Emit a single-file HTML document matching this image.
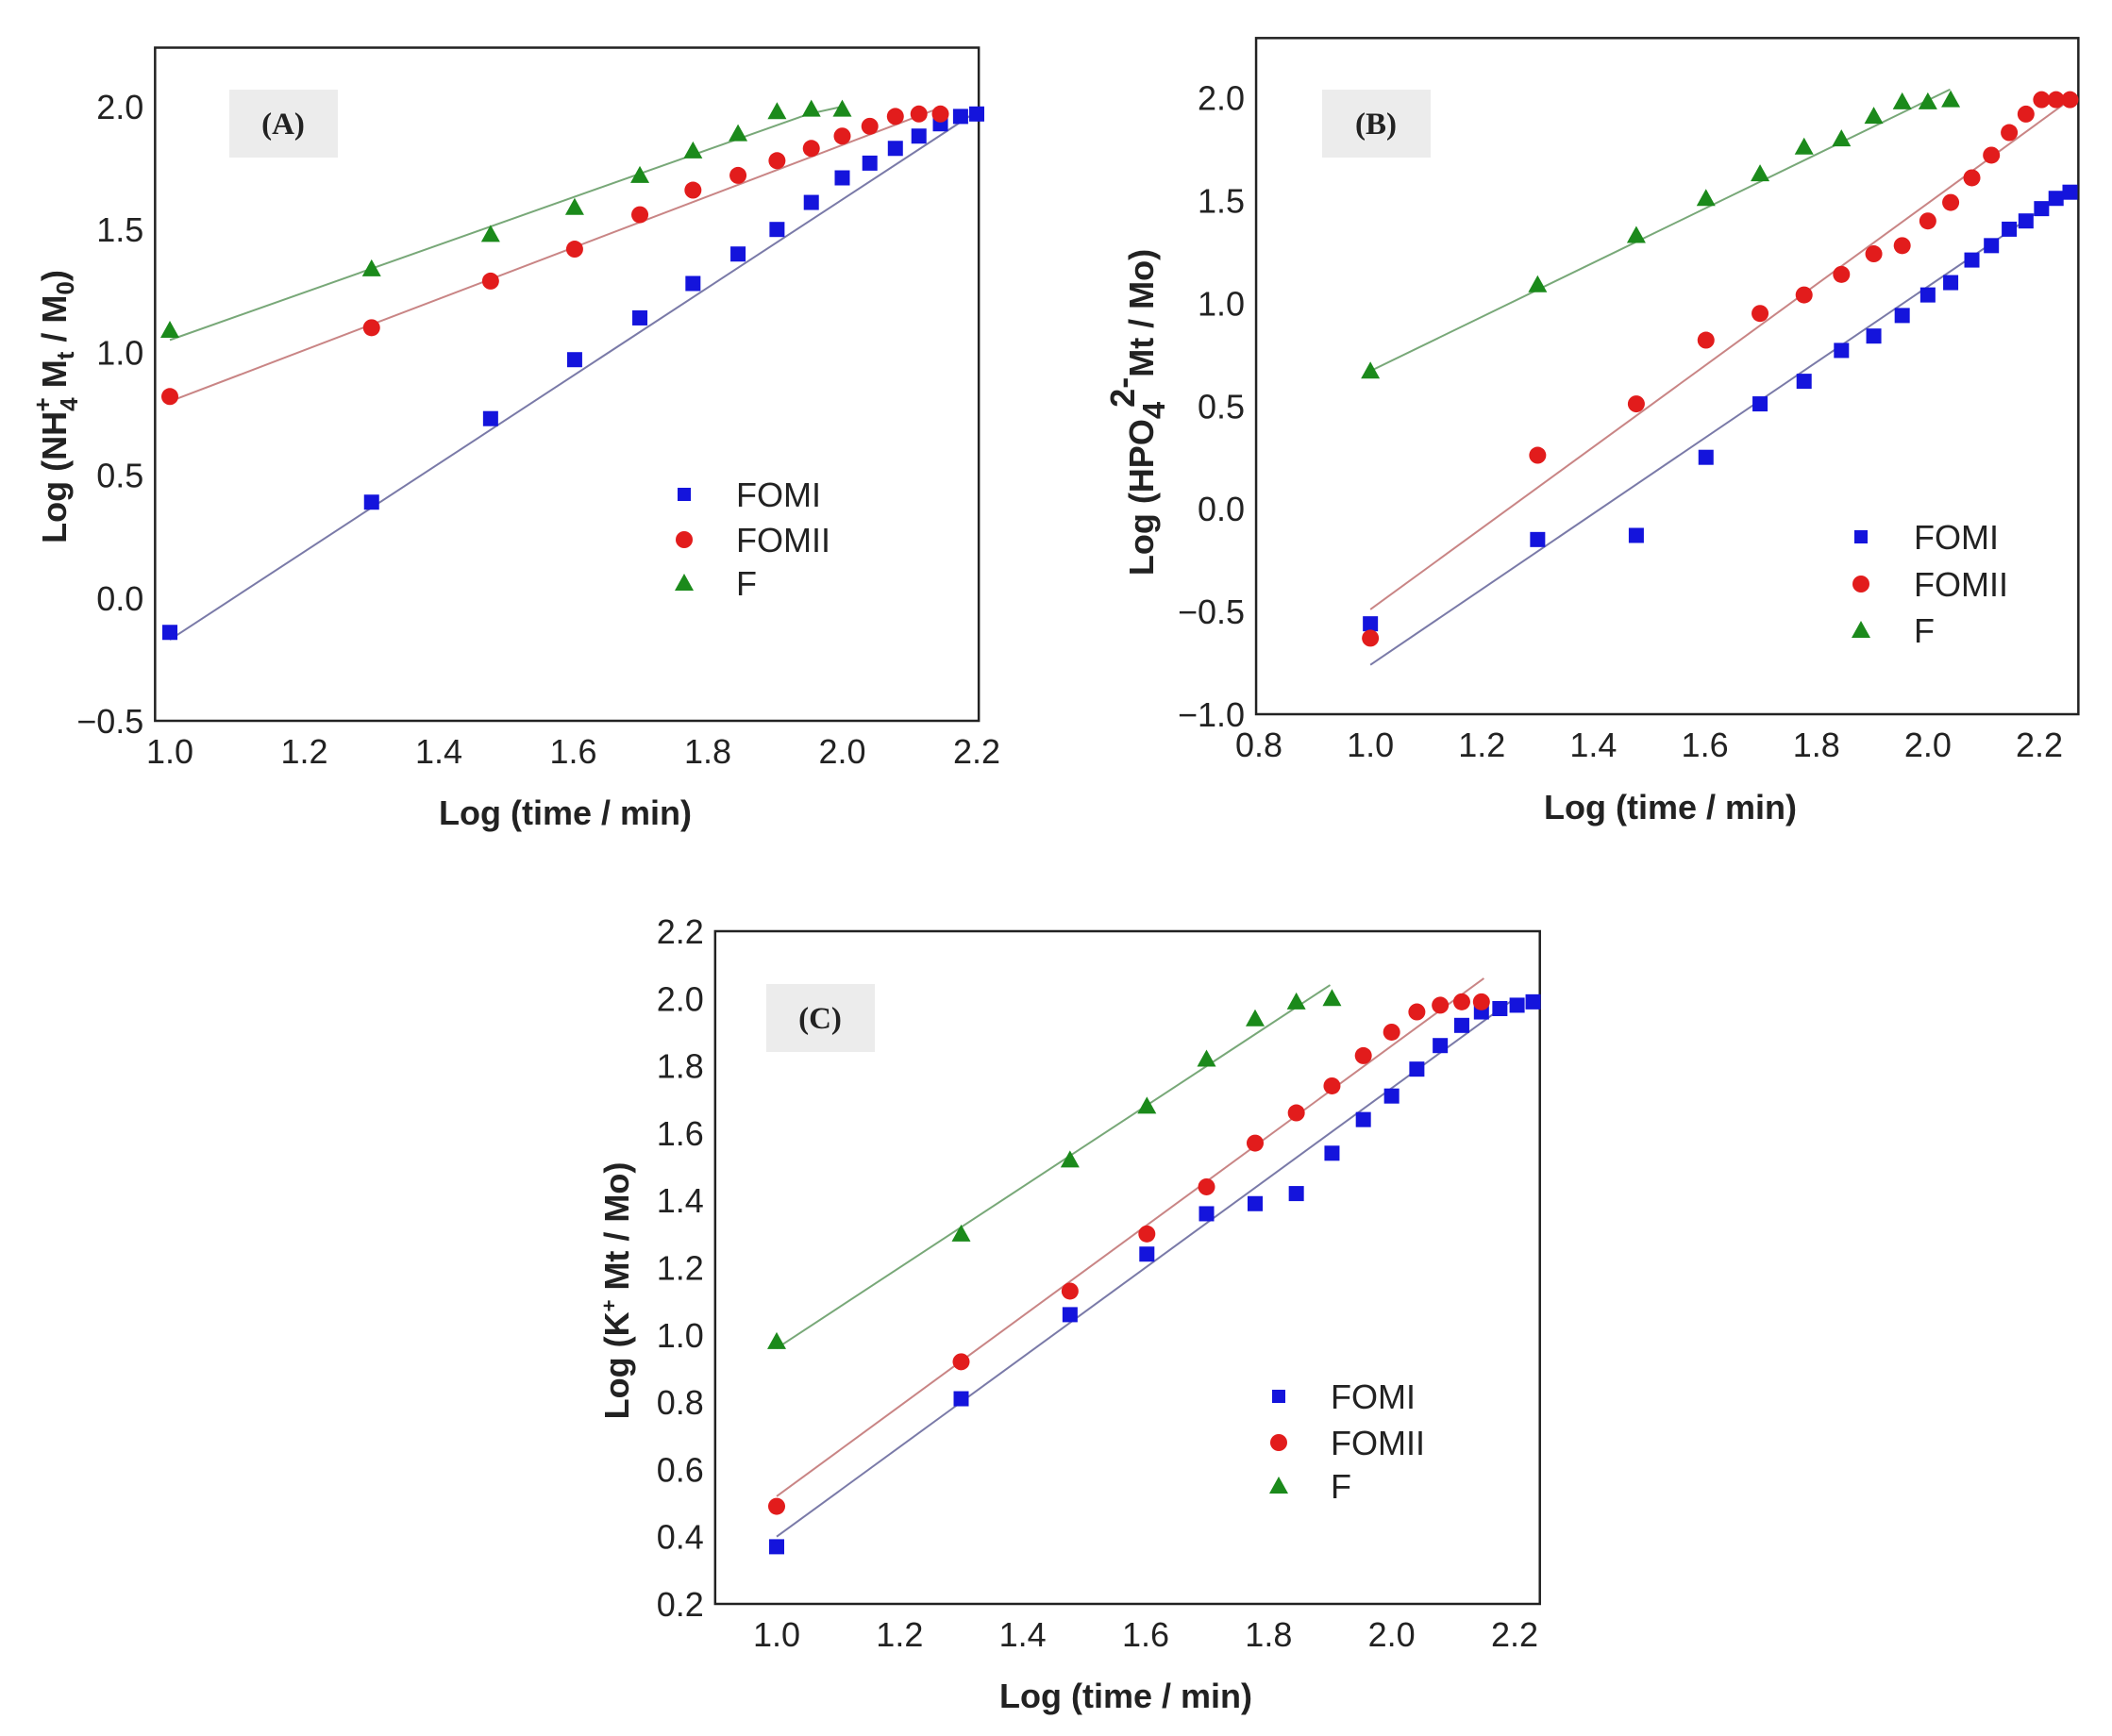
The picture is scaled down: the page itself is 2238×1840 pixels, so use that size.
<!DOCTYPE html>
<html><head><meta charset="utf-8"><style>
html,body{margin:0;padding:0;background:#fff;}
svg{display:block;font-family:"Liberation Sans",Arial,sans-serif;}
</style></head><body>
<svg id="fig" width="2238" height="1840" viewBox="0 0 2238 1840" xmlns="http://www.w3.org/2000/svg"></svg>
<script>
// ---------- Data: Panel A (NH4+) ----------
const aFomiX=[1.0,1.3,1.477,1.602,1.699,1.778,1.845,1.903,1.954,2.0,2.041,2.079,2.114,2.146,2.176,2.2];
const aFomiY=[-0.14,0.39,0.73,0.97,1.14,1.28,1.40,1.50,1.61,1.71,1.77,1.83,1.88,1.93,1.96,1.97];
const aFomiiX=[1.0,1.3,1.477,1.602,1.699,1.778,1.845,1.903,1.954,2.0,2.041,2.079,2.114,2.146];
const aFomiiY=[0.82,1.10,1.29,1.42,1.56,1.66,1.72,1.78,1.83,1.88,1.92,1.96,1.97,1.97];
const aFX=[1.0,1.3,1.477,1.602,1.699,1.778,1.845,1.903,1.954,2.0];
const aFY=[1.09,1.34,1.48,1.59,1.72,1.82,1.89,1.98,1.99,1.99];
const aFitFomi=[[1.0,-0.17],[2.2,1.98]];
const aFitFomii=[[1.0,0.80],[2.15,2.0]];
const aFitF=[[1.0,1.05],[1.95,1.97],[2.0,2.0]];
const aXTicks=[1.0,1.2,1.4,1.6,1.8,2.0,2.2];
const aYTicks=[-0.5,0.0,0.5,1.0,1.5,2.0];
// ---------- Data: Panel B (HPO4 2-) ----------
const bFomiX=[1.0,1.3,1.477,1.602,1.699,1.778,1.845,1.903,1.954,2.0,2.041,2.079,2.114,2.146,2.176,2.204,2.23,2.255];
const bFomiY=[-0.56,-0.15,-0.13,0.25,0.51,0.62,0.77,0.84,0.94,1.04,1.10,1.21,1.28,1.36,1.40,1.46,1.51,1.54];
const bFomiiX=[1.0,1.3,1.477,1.602,1.699,1.778,1.845,1.903,1.954,2.0,2.041,2.079,2.114,2.146,2.176,2.204,2.23,2.255];
const bFomiiY=[-0.63,0.26,0.51,0.82,0.95,1.04,1.14,1.24,1.28,1.40,1.49,1.61,1.72,1.83,1.92,1.99,1.99,1.99];
const bFX=[1.0,1.3,1.477,1.602,1.699,1.778,1.845,1.903,1.954,2.0,2.041];
const bFY=[0.67,1.09,1.33,1.51,1.63,1.76,1.80,1.91,1.98,1.98,1.99];
const bFitFomi=[[1.0,-0.76],[2.255,1.55]];
const bFitFomii=[[1.0,-0.49],[2.255,1.99]];
const bFitF=[[1.0,0.67],[2.04,2.04]];
const bXTicks=[0.8,1.0,1.2,1.4,1.6,1.8,2.0,2.2];
const bYTicks=[-1.0,-0.5,0.0,0.5,1.0,1.5,2.0];
// ---------- Data: Panel C (K+) ----------
const cFomiX=[1.0,1.3,1.477,1.602,1.699,1.778,1.845,1.903,1.954,2.0,2.041,2.079,2.114,2.146,2.176,2.204,2.23];
const cFomiY=[0.37,0.81,1.06,1.24,1.36,1.39,1.42,1.54,1.64,1.71,1.79,1.86,1.92,1.96,1.97,1.98,1.99];
const cFomiiX=[1.0,1.3,1.477,1.602,1.699,1.778,1.845,1.903,1.954,2.0,2.041,2.079,2.114,2.146];
const cFomiiY=[0.49,0.92,1.13,1.30,1.44,1.57,1.66,1.74,1.83,1.90,1.96,1.98,1.99,1.99];
const cFX=[1.0,1.3,1.477,1.602,1.699,1.778,1.845,1.903];
const cFY=[0.98,1.30,1.52,1.68,1.82,1.94,1.99,2.0];
const cFitFomi=[[1.0,0.40],[2.2,2.0]];
const cFitFomii=[[1.0,0.52],[2.15,2.06]];
const cFitF=[[1.0,0.96],[1.9,2.04]];
const cXTicks=[1.0,1.2,1.4,1.6,1.8,2.0,2.2];
const cYTicks=[0.2,0.4,0.6,0.8,1.0,1.2,1.4,1.6,1.8,2.0,2.2];
const seriesNames=["FOMI","FOMII","F"];

const NS="http://www.w3.org/2000/svg";
const svg=document.getElementById('fig');
function mk(tag,attrs,parent){const e=document.createElementNS(NS,tag);for(const k in attrs)e.setAttribute(k,attrs[k]);(parent||svg).appendChild(e);return e;}
const BLUE="#1414dc",RED="#e21c1c",GREEN="#1b8a1b";
const LBLUE="#7a7aa8",LRED="#c98585",LGREEN="#78a878";

function marker(g,kind,cx,cy,name){
  let e;
  if(kind==='sq'){e=mk('rect',{x:cx-8,y:cy-8,width:16,height:16,fill:BLUE},g);}
  else if(kind==='ci'){e=mk('circle',{cx:cx,cy:cy,r:9,fill:RED},g);}
  else {e=mk('polygon',{points:`${cx},${cy-10} ${cx+10},${cy+8} ${cx-10},${cy+8}`,fill:GREEN},g);}
  
  
  return e;
}

function panel(p){
  const g=mk('g',{});
  
  
  const sx=v=>p.x0+(v-p.xv0)*(p.x1-p.x0)/(p.xv1-p.xv0);
  const sy=v=>p.y0+(v-p.yv0)*(p.y1-p.y0)/(p.yv1-p.yv0);
  const L=sx(p.xmin),R=sx(p.xmax),T=sy(p.ymax),B=sy(p.ymin);
  const frame=mk('rect',{x:L,y:T,width:R-L,height:B-T,fill:'none',stroke:'#222','stroke-width':2.5},g);
  
  
  p.xt.forEach(v=>{
    const t=mk('text',{x:sx(v),y:B+45,'text-anchor':'middle','font-size':36,fill:'#222'},g);
    t.textContent=v.toFixed(1);
    
    
  });
  p.yt.forEach(v=>{
    const t=mk('text',{x:L-12,y:sy(v)+13,'text-anchor':'end','font-size':36,fill:'#222'},g);
    t.textContent=(v<0?'\u2212':'')+Math.abs(v).toFixed(1);
    
    
  });
  const tb=mk('rect',{x:p.tag[0],y:p.tag[1],width:115,height:72,fill:'#ececec'},g);
  
  
  const tt=mk('text',{x:p.tag[0]+57,y:p.tag[1]+47,'text-anchor':'middle','font-size':33,'font-weight':'bold','font-family':'"Liberation Serif",serif',fill:'#222'},g);
  tt.textContent=p.label;
  
  
  const fits=[[p.fits[0],LBLUE,'fomi'],[p.fits[1],LRED,'fomii'],[p.fits[2],LGREEN,'f']];
  fits.forEach(([pts,c,n])=>{
    const l=mk('polyline',{points:pts.map(q=>sx(q[0])+','+sy(q[1])).join(' '),fill:'none',stroke:c,'stroke-width':2},g);
    
    
  });
  p.s[0][0].forEach((x,i)=>marker(g,'sq',sx(x),sy(p.s[0][1][i]),p.id+'-fomi-point'));
  p.s[1][0].forEach((x,i)=>marker(g,'ci',sx(x),sy(p.s[1][1][i]),p.id+'-fomii-point'));
  p.s[2][0].forEach((x,i)=>marker(g,'tr',sx(x),sy(p.s[2][1][i]),p.id+'-f-point'));
  const kinds=['sq','ci','tr'];
  seriesNames.forEach((n,i)=>{
    const lg=mk('g',{},g);
    
    
    const y=p.leg[1][i];
    const m=marker(lg,kinds[i],p.leg[0],y,p.id+'-legend-marker');
    if(kinds[i]==='sq'){m.setAttribute('x',p.leg[0]-7);m.setAttribute('y',y-7);m.setAttribute('width',14);m.setAttribute('height',14);}
    const t=mk('text',{x:p.leg[2],y:y+13,'font-size':36,fill:'#222'},lg);
    t.textContent=n;
  });
  const xt=mk('text',{x:p.xtitle[0],y:p.xtitle[1],'text-anchor':'middle','font-size':36,'font-weight':'bold',fill:'#222'},g);
  xt.textContent='Log (time / min)';
  
  
  const yt=mk('text',{x:0,y:0,'text-anchor':'middle','font-size':36,'font-weight':'bold',fill:'#222',transform:`translate(${p.ytitle[0]},${p.ytitle[1]}) rotate(-90)`},g);
  yt.innerHTML=p.ytitleHtml;
  
  
}

panel({id:'a',label:'(A)',x0:180,x1:1035,xv0:1.0,xv1:2.2,y0:764,y1:113,yv0:-0.5,yv1:2.0,
  xmin:0.978,xmax:2.203,ymin:-0.5,ymax:2.24,xt:aXTicks,yt:aYTicks,tag:[243,95],
  fits:[aFitFomi,aFitFomii,aFitF],s:[[aFomiX,aFomiY],[aFomiiX,aFomiiY],[aFX,aFY]],
  leg:[725,[524,572,618],780],xtitle:[599,874],ytitle:[70,431],
  ytitleHtml:'Log (NH<tspan font-size="26" dy="12">4</tspan><tspan font-size="26" dx="-15" dy="-28">+</tspan><tspan dy="16"> M</tspan><tspan font-size="26" dy="8">t</tspan><tspan dy="-8"> / M</tspan><tspan font-size="26" dy="8">0</tspan><tspan dy="-8">)</tspan>'});
panel({id:'b',label:'(B)',x0:1334,x1:2161,xv0:0.8,xv1:2.2,y0:757,y1:103.5,yv0:-1.0,yv1:2.0,
  xmin:0.795,xmax:2.27,ymin:-1.0,ymax:2.29,xt:bXTicks,yt:bYTicks,tag:[1401,95],
  fits:[bFitFomi,bFitFomii,bFitF],s:[[bFomiX,bFomiY],[bFomiiX,bFomiiY],[bFX,bFY]],
  leg:[1972,[569,619,668],2028],xtitle:[1770,868],ytitle:[1222,437],
  ytitleHtml:'Log (HPO<tspan font-size="33" dy="12">4</tspan><tspan dx="-6" dy="-32">2-</tspan><tspan dy="20">Mt / Mo)</tspan>'});
panel({id:'c',label:'(C)',x0:823,x1:1605,xv0:1.0,xv1:2.2,y0:1700,y1:987,yv0:0.2,yv1:2.2,
  xmin:0.90,xmax:2.241,ymin:0.2,ymax:2.2,xt:cXTicks,yt:cYTicks,tag:[812,1043],
  fits:[cFitFomi,cFitFomii,cFitF],s:[[cFomiX,cFomiY],[cFomiiX,cFomiiY],[cFX,cFY]],
  leg:[1355,[1480,1529,1575],1410],xtitle:[1193,1810],ytitle:[666,1368],
  ytitleHtml:'Log (K<tspan font-size="22" dy="-13">+</tspan><tspan dy="13"> Mt / Mo)</tspan>'});
</script>
</body></html>
